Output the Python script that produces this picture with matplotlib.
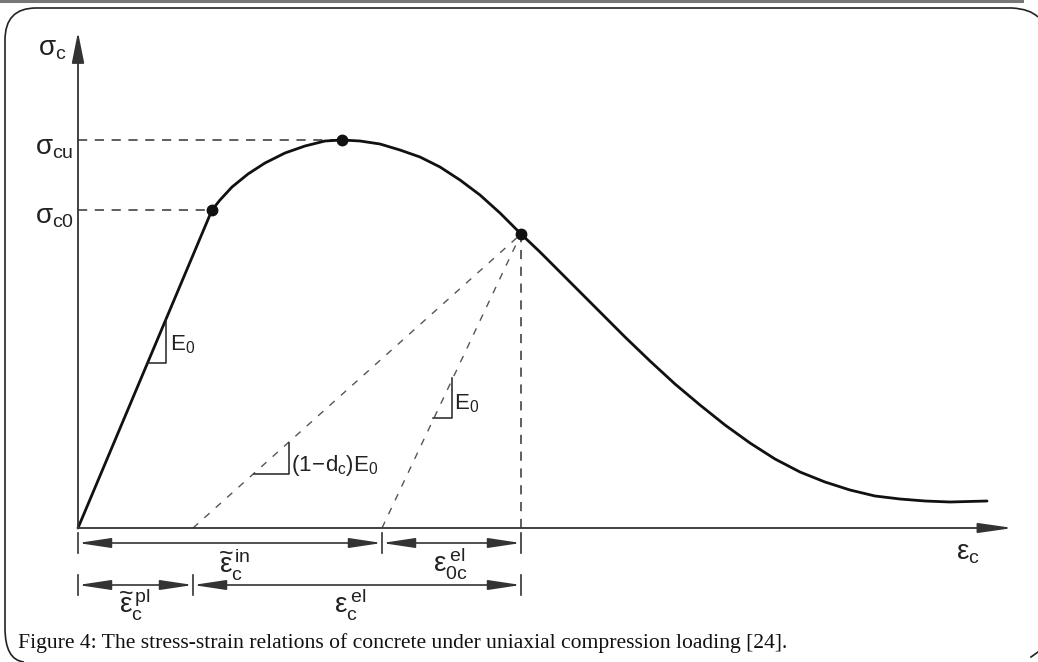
import numpy as np
import matplotlib
matplotlib.use("Agg")
import matplotlib.pyplot as plt
from matplotlib.path import Path
from matplotlib.patches import PathPatch

plt.rcParams['mathtext.fontset'] = 'custom'
plt.rcParams['mathtext.rm'] = 'Liberation Sans'
plt.rcParams['mathtext.it'] = 'Liberation Sans'
plt.rcParams['mathtext.bf'] = 'Liberation Sans:bold'
plt.rcParams['font.family'] = ['Liberation Sans', 'DejaVu Sans']

# stress-strain curve (strain, stress)
curve_strain = [0, 134, 142, 154, 170, 187, 207, 227, 247, 264, 282, 302, 322,
                342, 362, 382, 402, 422, 443, 462, 482, 502, 522, 547, 572, 597,
                622, 647, 672, 697, 722, 747, 772, 797, 822, 847, 872, 909]
curve_stress = [0, 318, 328, 341, 354, 365, 375, 382, 387, 388, 387, 384, 378,
                371, 361, 348, 333, 315, 294, 276, 256, 236, 216, 191, 167, 144,
                123, 103, 85, 69, 56, 46, 38, 32, 29, 27, 26, 27]

eps_c0, sig_c0 = 134, 318      # end of elastic branch
eps_cu, sig_cu = 264, 388      # peak
eps_un, sig_un = 443, 294      # unloading point
eps_pl = 115                   # plastic strain (damaged unloading)
eps_in = 304                   # inelastic strain (undamaged unloading)

caption = "Figure 4: The stress-strain relations of concrete under uniaxial compression loading [24]."

ox, oy = 78, 528   # origin position in pixels


def px(x, y):
    return x - ox, oy - y


fig = plt.figure(figsize=(10.38, 6.62), dpi=100)
ax = fig.add_axes([0, 0, 1, 1])
ax.set_xlim(-ox, 1038 - ox)
ax.set_ylim(oy - 662, oy)
ax.axis('off')

dash_col = '#333333'
txt_col = '#222222'

# axes with arrows
ax.annotate('', xy=(0, oy - 32), xytext=(0, 0),
            arrowprops=dict(arrowstyle='-|>,head_length=1.9,head_width=0.38',
                            lw=1.3, color='#333333', shrinkA=0, shrinkB=0,
                            mutation_scale=10))
ax.annotate('', xy=(1013 - ox, 0), xytext=(0, 0),
            arrowprops=dict(arrowstyle='-|>,head_length=2.1,head_width=0.3',
                            lw=1.3, color='#333333', shrinkA=0, shrinkB=0,
                            mutation_scale=10))

# dashed guides
ax.plot([0, eps_cu], [sig_cu, sig_cu], ls=(0, (6, 5)), color=dash_col, lw=1.1)
ax.plot([0, eps_c0], [sig_c0, sig_c0], ls=(0, (6, 5)), color=dash_col, lw=1.1)
ax.plot([eps_un, eps_un], [0, sig_un], ls=(0, (6, 5)), color=dash_col, lw=1.1)
ax.plot([eps_pl, eps_un], [0, sig_un], ls=(0, (5, 6)), color='#555555', lw=1.0)
ax.plot([eps_in, eps_un], [0, sig_un], ls=(0, (5, 6)), color='#555555', lw=1.0)

# curve and key points
ax.plot(curve_strain, curve_stress, color='#111111', lw=2.0,
        solid_capstyle='round', solid_joinstyle='round')
ax.plot([eps_c0, eps_cu, eps_un], [sig_c0, sig_cu, sig_un], 'o', color='#111111', ms=7.5)


# slope triangles
def slope_triangle(x0, y0, w, slope):
    h = w * slope
    ax.plot([x0, x0 + w, x0 + w], [y0, y0, y0 + h], color='#222222', lw=1.1)


slope_triangle(70, 165, 18, sig_c0 / eps_c0)
slope_triangle(355, 110, 19, sig_un / (eps_un - eps_in))
slope_triangle(176, 54, 35, sig_un / (eps_un - eps_pl))

ax.text(92, 183, r'$\mathrm{E_0}$', fontsize=16, color=txt_col, va='center', ha='left')
ax.text(376, 124, r'$\mathrm{E_0}$', fontsize=16, color=txt_col, va='center', ha='left')
ax.text(213, 62, r'$\mathrm{(1\!-\!d_c)E_0}$', fontsize=16, color=txt_col, va='center', ha='left')

# stress labels
ax.text(-40, 479, r'$\sigma_c$', fontsize=20, color=txt_col, va='center', ha='left')
ax.text(-43, 380, r'$\sigma_{cu}$', fontsize=20, color=txt_col, va='center', ha='left')
ax.text(-43, 311, r'$\sigma_{c0}$', fontsize=20, color=txt_col, va='center', ha='left')
ax.text(890, -25, r'$\varepsilon_c$', fontsize=20, color=txt_col, va='center', ha='center')


# dimension arrows
def dim(x0, x1, y):
    ax.annotate('', xy=(x1, y), xytext=(x0, y),
                arrowprops=dict(arrowstyle='<|-|>,head_length=2.0,head_width=0.3',
                                lw=1.2, color='#333333', shrinkA=0, shrinkB=0,
                                mutation_scale=10))


def tick(x, y):
    ax.plot([x, x], [y + 10, y - 10], color='#333333', lw=1.2)


row1, row2 = -15, -57
dim(0, eps_in, row1)
dim(eps_in, eps_un, row1)
for x in (0, eps_in, eps_un):
    tick(x, row1)
dim(0, eps_pl, row2)
dim(eps_pl, eps_un, row2)
for x in (0, eps_pl, eps_un):
    tick(x, row2)

ax.text(157, -36, r'$\widetilde{\varepsilon}_c^{\,in}$', fontsize=20, color=txt_col, ha='center', va='center')
ax.text(372, -35, r'$\varepsilon_{0c}^{\,el}$', fontsize=20, color=txt_col, ha='center', va='center')
ax.text(57, -77, r'$\widetilde{\varepsilon}_c^{\,pl}$', fontsize=20, color=txt_col, ha='center', va='center')
ax.text(272, -76, r'$\varepsilon_c^{\,el}$', fontsize=20, color=txt_col, ha='center', va='center')

# caption
cx, cy = px(18, 643)
ax.text(cx, cy, caption, fontsize=15.6, family='Liberation Serif', color='#111111',
        ha='left', va='center')

# page frame
ax.plot(*zip(px(0, 1), px(1022, 1)), color='#777777', lw=2.2)
frame = [px(1038, 17), px(1030, 9), px(1012, 8), px(36, 8), px(5, 8),
         px(5, 40), px(5, 628), px(5, 660), px(24, 662)]
codes = [Path.MOVETO, Path.CURVE3, Path.CURVE3, Path.LINETO, Path.CURVE3,
         Path.CURVE3, Path.LINETO, Path.CURVE3, Path.CURVE3]
ax.add_patch(PathPatch(Path(frame, codes), fill=False, lw=1.2, color='#222222'))
ax.plot(*zip(px(1031, 657), px(1038, 652)), color='#222222', lw=1.2)

fig.savefig('out.png', dpi=100)
